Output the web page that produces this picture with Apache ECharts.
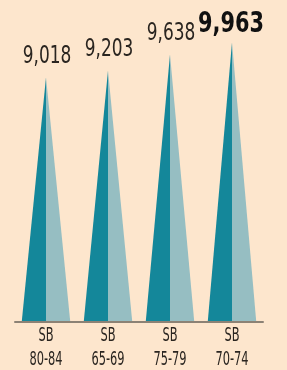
<!DOCTYPE html>
<html>
<head>
<meta charset="utf-8">
<script src="https://cdn.jsdelivr.net/npm/echarts@6/dist/echarts.min.js"></script>
<style>
  html, body { margin: 0; padding: 0; background: #fde6cd; }
  #chart { width: 287px; height: 370px; }
</style>
</head>
<body>
<div id="chart"></div>
<script>
const categories = ['SB\n80-84', 'SB\n65-69', 'SB\n75-79', 'SB\n70-74'];
const values = [9018, 9203, 9638, 9963];
const valueLabels = ['9,018', '9,203', '9,638', '9,963'];
const highlight = 3;

// no condensed face installed, so text is squeezed horizontally
const FONT = "'DejaVu Sans', sans-serif";

const chart = echarts.init(document.getElementById('chart'));

const option = {
  backgroundColor: '#fde6cd',
  animation: false,
  grid: { left: 15, right: 24, top: 41, bottom: 48 },
  xAxis: {
    type: 'category',
    data: categories,
    axisLine: { lineStyle: { color: '#8c8275', width: 2 } },
    axisTick: { show: false },
    axisLabel: { show: false }
  },
  yAxis: {
    type: 'value',
    min: 2400,
    max: 10000,
    show: false,
    splitLine: { show: false }
  },
  series: [
    {
      type: 'custom',
      clip: false,
      data: values.map((v, i) => [i, v]),
      renderItem: function (params, api) {
        const i = api.value(0);
        const top = api.coord([i, api.value(1)]);
        const base = api.coord([i, 2400]);
        const half = api.size([1, 0])[0] * 0.39;
        const bold = params.dataIndex === highlight;
        return {
          type: 'group',
          children: [
            {
              type: 'polygon',
              shape: { points: [[base[0] - half, base[1] - 1], [top[0], top[1]], [base[0], base[1] - 1]] },
              style: { fill: '#14879a' }
            },
            {
              type: 'polygon',
              shape: { points: [[base[0], base[1] - 1], [top[0], top[1]], [base[0] + half, base[1] - 1]] },
              style: { fill: '#96bec2' }
            },
            {
              type: 'text',
              x: top[0] + (bold ? -1 : 1),
              y: top[1] - (bold ? 4 : 8),
              scaleX: bold ? 0.745 : 0.68,
              style: {
                text: valueLabels[params.dataIndex],
                x: 0,
                y: 0,
                align: 'center',
                verticalAlign: 'bottom',
                fill: bold ? '#111' : '#2a2520',
                fontFamily: FONT,
                fontSize: bold ? 28 : 25,
                fontWeight: bold ? 'bold' : 'normal'
              }
            },
            {
              type: 'text',
              x: base[0],
              y: base[1] + 2,
              scaleX: 0.57,
              style: {
                text: categories[params.dataIndex],
                x: 0,
                y: 0,
                align: 'center',
                verticalAlign: 'top',
                lineHeight: 24,
                fill: '#2a2520',
                fontFamily: FONT,
                fontSize: 20
              }
            }
          ]
        };
      }
    }
  ]
};

chart.setOption(option);
</script>
</body>
</html>
